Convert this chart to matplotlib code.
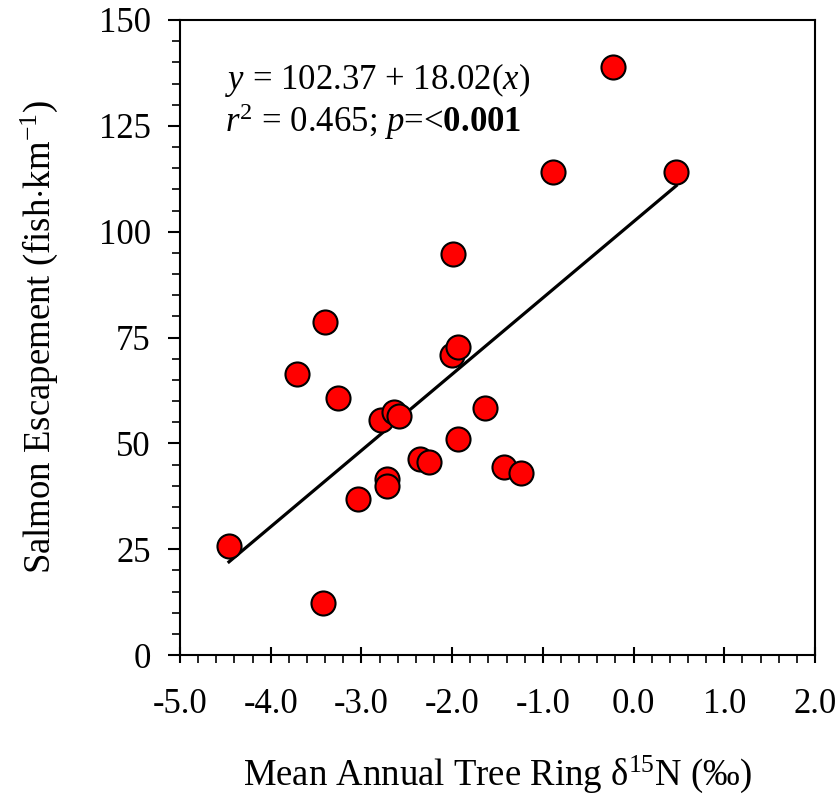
import matplotlib

matplotlib.use("Agg")
import matplotlib.pyplot as plt
import numpy as np
from matplotlib.ticker import MultipleLocator

# Tree ring d15N against salmon escapement, one point per year
delta15n = [-4.46, -3.42, -3.40, -3.71, -3.26, -3.04, -2.78, -2.72, -2.72,
            -2.64, -2.59, -2.35, -2.25, -2.00, -1.99, -1.93, -1.93, -1.64,
            -1.43, -1.24, -0.89, -0.23, 0.47]
escapement = [25.8, 12.3, 78.7, 66.4, 60.6, 36.9, 55.4, 41.5, 40.0,
              57.4, 56.5, 46.3, 45.6, 70.8, 94.8, 72.8, 51.0, 58.3,
              44.4, 43.0, 114.2, 138.8, 114.2]

intercept = 102.37
slope = 18.02

plt.rcParams["font.family"] = ["Liberation Serif", "DejaVu Serif"]
plt.rcParams["mathtext.fontset"] = "custom"
plt.rcParams["mathtext.rm"] = "Liberation Serif"
plt.rcParams["mathtext.it"] = "Liberation Serif:italic"
plt.rcParams["mathtext.bf"] = "Liberation Serif:bold"

fig = plt.figure(figsize=(8.38, 8.01), dpi=100)
ax = fig.add_axes([180 / 838, 146 / 801, 635 / 838, 635 / 801])

x_fit = np.array([min(delta15n), max(delta15n)])
ax.plot(x_fit, intercept + slope * x_fit, color="black", linewidth=2.3, zorder=2)
ax.scatter(delta15n, escapement, s=300, color="#FF0000", edgecolor="black",
           linewidth=1.5, zorder=3)

ax.set_xlim(-5, 2)
ax.set_ylim(0, 150)
ax.xaxis.set_major_locator(MultipleLocator(1))
ax.xaxis.set_minor_locator(MultipleLocator(0.2))
ax.yaxis.set_major_locator(MultipleLocator(25))
ax.yaxis.set_minor_locator(MultipleLocator(5))
ax.xaxis.set_major_formatter(lambda v, pos: f"{v:.1f}")

ax.tick_params(axis="x", which="major", direction="inout", length=12, width=1.5,
               labelsize=25, pad=18)
ax.tick_params(axis="x", which="minor", direction="out", length=6, width=1.2)
ax.tick_params(axis="y", which="major", direction="out", length=9, width=1.5,
               labelsize=25, pad=12)
ax.tick_params(axis="y", which="minor", direction="out", length=6, width=1.2)
for spine in ax.spines.values():
    spine.set_linewidth(1.5)

ax.set_xlabel("Mean Annual Tree Ring δ$^{15}$N (‰)", fontsize=26.5, labelpad=23)
ax.set_ylabel(r"Salmon Escapement (fish$\cdot$km$^{-1}$)", fontsize=26.5,
              labelpad=28)

ax.text(0.071, 0.905, r"$\it{y}$ = 102.37 + 18.02($\it{x}$)", transform=ax.transAxes,
        fontsize=25, va="center")
ax.text(0.071, 0.84, r"$\it{r}^2$ = 0.465; $\it{p}$=<$\mathbf{0.001}$",
        transform=ax.transAxes, fontsize=25, va="center")

fig.savefig("out.png", dpi=100)
